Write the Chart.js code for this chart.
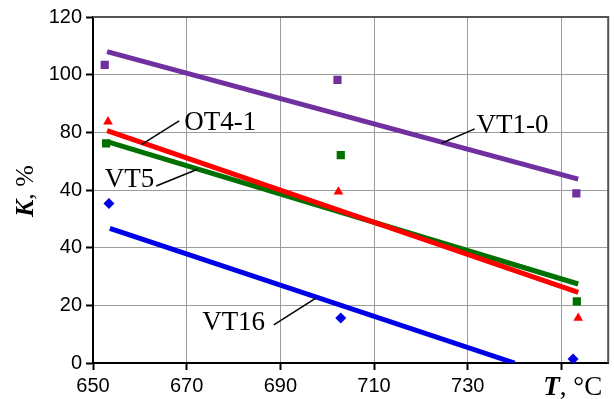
<!DOCTYPE html>
<html><head><meta charset="utf-8">
<script src="https://cdn.jsdelivr.net/npm/chart.js@4/dist/chart.umd.min.js"></script>
<style>html,body{margin:0;padding:0;background:#fff;overflow:hidden}</style>
</head><body>
<canvas id="c" width="614" height="399"></canvas>
<script>
// ---- axis ticks ----
const xTicks = [650, 670, 690, 710, 730, 750];
const xTickLabels = ['650', '670', '690', '710', '730', ''];
const yTicks = [0, 20, 40, 60, 80, 100, 120];
const yTickLabels = ['0', '20', '40', '40', '80', '100', '120'];

// ---- series names ----
const seriesNames = ['VT1-0', 'OT4-1', 'VT5', 'VT16'];

// ---- measured points (T, K) ----
const vt10T = [652.5, 702.2, 753.2];
const vt10K = [103.4, 98.2, 58.8];
const ot41T = [653.2, 702.4, 753.6];
const ot41K = [83.7, 59.4, 15.6];
const vt5T = [652.8, 702.9, 753.3];
const vt5K = [76.2, 72.1, 21.4];
const vt16T = [653.4, 702.9, 752.5];
const vt16K = [55.3, 15.6, 1.4];

// ---- trend lines (end points) ----
const vt10TrendT = [653, 753.6];
const vt10TrendK = [108, 63.8];
const ot41TrendT = [653, 753.6];
const ot41TrendK = [80.6, 24.5];
const vt5TrendT = [653, 753.6];
const vt5TrendK = [76.8, 27.4];
const vt16TrendT = [653.6, 740];
const vt16TrendK = [46.7, 0];

const pts = (xs, ys) => xs.map((x, i) => ({x: x, y: ys[i]}));

const C = {purple: '#7030a0', red: '#ff0000', green: '#007000', blue: '#0000e6'};

// label placement (data coordinates)
const labelPlace = [
  {name: 0, at: [731.9, 79.8], from: [724.4, 76.2], to: [731.5, 81.2]},
  {name: 1, at: [669.5, 80.8], from: [660.4, 75.8], to: [668.4, 84.0]},
  {name: 2, at: [652.5, 61.0], from: [663.5, 61.4], to: [672.3, 67.2]},
  {name: 3, at: [673.3, 11.4], from: [688.6, 13.2], to: [697.5, 22.4]}
];

const decor = {
  id: 'decor',
  afterDraw(chart) {
    const ctx = chart.ctx, a = chart.chartArea;
    const xs = chart.scales.x, ys = chart.scales.y;
    ctx.save();
    // top & right frame
    ctx.strokeStyle = '#555';
    ctx.lineWidth = 2;
    ctx.beginPath();
    ctx.moveTo(a.left, a.top);
    ctx.lineTo(a.right, a.top);
    ctx.lineTo(a.right, a.bottom);
    ctx.stroke();
    // series labels with leader lines
    ctx.fillStyle = '#000';
    ctx.strokeStyle = '#000';
    ctx.lineWidth = 1.5;
    ctx.font = '27px "Liberation Serif"';
    ctx.textBaseline = 'alphabetic';
    ctx.textAlign = 'left';
    labelPlace.forEach(l => {
      ctx.beginPath();
      ctx.moveTo(xs.getPixelForValue(l.from[0]), ys.getPixelForValue(l.from[1]));
      ctx.lineTo(xs.getPixelForValue(l.to[0]), ys.getPixelForValue(l.to[1]));
      ctx.stroke();
      ctx.fillText(seriesNames[l.name], xs.getPixelForValue(l.at[0]), ys.getPixelForValue(l.at[1]));
    });
    // x axis title
    let tx = xs.getPixelForValue(750) - 18, ty = a.bottom + 32;
    ctx.font = 'italic bold 27px "Liberation Serif"';
    ctx.fillText('T', tx, ty);
    tx += ctx.measureText('T').width;
    ctx.font = '27px "Liberation Serif"';
    ctx.fillText(', °C', tx, ty);
    // y axis title
    ctx.translate(33, 217);
    ctx.rotate(-Math.PI / 2);
    ctx.font = 'italic bold 26px "Liberation Serif"';
    ctx.fillText('K', 0, 0);
    const kw = ctx.measureText('K').width;
    ctx.font = '26px "Liberation Serif"';
    ctx.fillText(', %', kw, 0);
    ctx.restore();
  }
};

new Chart(document.getElementById('c'), {
  type: 'scatter',
  data: {
    datasets: [
      {data: pts(vt10T, vt10K), pointStyle: 'rect', pointRadius: 5.8, backgroundColor: C.purple, borderColor: C.purple, borderWidth: 0, showLine: false, order: 1},
      {data: pts(ot41T, ot41K), pointStyle: 'triangle', pointRadius: 5.6, backgroundColor: C.red, borderColor: C.red, borderWidth: 0, showLine: false, order: 1},
      {data: pts(vt5T, vt5K), pointStyle: 'rect', pointRadius: 5.8, backgroundColor: C.green, borderColor: C.green, borderWidth: 0, showLine: false, order: 1},
      {data: pts(vt16T, vt16K), pointStyle: 'rectRot', pointRadius: 5.5, backgroundColor: C.blue, borderColor: C.blue, borderWidth: 0, showLine: false, order: 1},
      {data: pts(vt10TrendT, vt10TrendK), showLine: true, borderColor: C.purple, borderWidth: 5, pointRadius: 0, order: 2},
      {data: pts(ot41TrendT, ot41TrendK), showLine: true, borderColor: C.red, borderWidth: 5, pointRadius: 0, order: 3},
      {data: pts(vt5TrendT, vt5TrendK), showLine: true, borderColor: C.green, borderWidth: 5, pointRadius: 0, order: 4},
      {data: pts(vt16TrendT, vt16TrendK), showLine: true, borderColor: C.blue, borderWidth: 5, pointRadius: 0, order: 2}
    ]
  },
  options: {
    responsive: false,
    animation: false,
    devicePixelRatio: 1,
    layout: {padding: {left: 0, top: 17, right: 3, bottom: 0}},
    plugins: {legend: {display: false}, tooltip: {enabled: false}},
    scales: {
      x: {
        type: 'linear', min: 650, max: 760,
        afterBuildTicks: s => { s.ticks = xTicks.map(v => ({value: v})); },
        afterFit: s => { s.height = 36; },
        ticks: {
          callback: (v, i) => xTickLabels[i],
          font: {family: '"Liberation Sans"', size: 20},
          color: '#000', maxRotation: 0, autoSkip: false, padding: 4
        },
        grid: {color: '#9c9c9c', lineWidth: 1, tickColor: '#000', tickLength: 7, tickWidth: 2},
        border: {color: '#000', width: 2}
      },
      y: {
        type: 'linear', min: 0, max: 120,
        afterBuildTicks: s => { s.ticks = yTicks.map(v => ({value: v})); },
        afterFit: s => { s.width = 93; },
        ticks: {
          callback: (v, i) => yTickLabels[i],
          font: {family: '"Liberation Sans"', size: 20},
          color: '#000', autoSkip: false, padding: 4
        },
        grid: {color: '#9c9c9c', lineWidth: 1, tickColor: '#000', tickLength: 7, tickWidth: 2},
        border: {color: '#000', width: 2}
      }
    }
  },
  plugins: [decor]
});
</script>
</body></html>
